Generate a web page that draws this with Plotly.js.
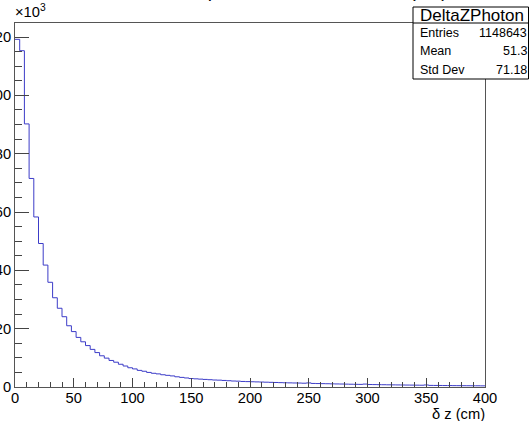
<!DOCTYPE html>
<html>
<head>
<meta charset="utf-8">
<script src="https://cdn.plot.ly/plotly-3.0.1.min.js"></script>
<style>html,body{margin:0;padding:0;background:#fff;}#chart{width:529px;height:421px;}</style>
</head>
<body>
<div id="chart"></div>
<script>
// ---- data (counts in units of 10^3 per 4 cm bin, 0..400 cm) ----
const histName = "DeltaZPhoton";
const titleText = "δz of reconstructed photon from true vertex (cm)";
const xTitle = "δ z (cm)";
const binLow = 0;
const binWidth = 4;
const counts = [
  119.2, 115.3, 90.2, 71.5, 58.3, 49.2, 41.8, 35.9, 30.6, 27.0,
  24.1, 21.0, 19.0, 17.0, 15.5, 14.2, 12.9, 11.8, 10.7, 9.9,
  9.1, 8.5, 7.8, 7.2, 6.6, 6.2, 5.7, 5.4, 5.0, 4.7,
  4.5, 4.2, 4.0, 3.8, 3.5, 3.3, 3.1, 2.9, 2.8, 2.7,
  2.6, 2.5, 2.4, 2.35, 2.25, 2.15, 2.05, 2.0, 1.9, 1.85,
  1.8, 1.75, 1.7, 1.65, 1.6, 1.55, 1.5, 1.45, 1.42, 1.38,
  1.35, 1.3, 1.4, 1.22, 1.18, 1.15, 1.12, 1.08, 1.05, 1.02,
  0.98, 0.95, 0.92, 0.9, 1.0, 0.85, 0.83, 0.8, 0.78, 0.75,
  0.73, 0.71, 0.69, 0.67, 0.65, 0.63, 0.61, 0.7, 0.55, 0.53,
  0.52, 0.5, 0.49, 0.47, 0.46, 0.45, 0.44, 0.43, 0.42, 0.4
];
const xTickVals = [0, 50, 100, 150, 200, 250, 300, 350, 400];
const xTickText = ["0", "50", "100", "150", "200", "250", "300", "350", "400"];
const yTickVals = [0, 20, 40, 60, 80, 100, 120];
const yTickText = ["0", "20", "40", "60", "80", "100", "120"];
const statLabels = ["Entries", "Mean", "Std Dev"];
const statValues = ["1148643", "51.3", "71.18"];

// ---- geometry helpers ----
const W = 529, H = 421;
const M = {l: 15, r: 44, t: 23, b: 34};
const PW = W - M.l - M.r, PH = H - M.t - M.b;
const px = x => (x - M.l) / PW;
const py = y => (H - M.b - y) / PH;

// step histogram from bin edges
const edges = [], stepY = [];
for (let i = 0; i < counts.length; i++) { edges.push(binLow + i * binWidth); stepY.push(counts[i]); }
edges.push(binLow + counts.length * binWidth); stepY.push(counts[counts.length - 1]);

const FONT = "Liberation Sans, Arial, Helvetica, sans-serif";

const trace = {
  x: edges, y: stepY, type: "scatter", mode: "lines",
  line: {shape: "hv", color: "#3c3cc8", width: 1},
  hoverinfo: "skip"
};

const annotations = [
  {text: titleText, xref: "paper", yref: "paper", x: px(244), y: py(3), xanchor: "center", yanchor: "bottom",
   showarrow: false, font: {family: FONT, size: 19, color: "#000"}},
  {text: "×10<sup>3</sup>", xref: "paper", yref: "paper", x: px(13), y: py(22), xanchor: "left", yanchor: "bottom",
   showarrow: false, font: {family: FONT, size: 14.7, color: "#000"}},
  {text: xTitle, xref: "paper", yref: "paper", x: px(487), y: py(414), xanchor: "right", yanchor: "middle",
   showarrow: false, font: {family: FONT, size: 14.7, color: "#000"}},
  {text: histName, xref: "paper", yref: "paper", x: px(472), y: py(15), xanchor: "center", yanchor: "middle",
   showarrow: false, font: {family: FONT, size: 17, color: "#000"}}
];
const rowY = [33, 51, 70];
for (let i = 0; i < statLabels.length; i++) {
  annotations.push({text: statLabels[i], xref: "paper", yref: "paper", x: px(418), y: py(rowY[i]),
    xanchor: "left", yanchor: "middle", showarrow: false, font: {family: FONT, size: 12.5, color: "#000"}});
  annotations.push({text: statValues[i], xref: "paper", yref: "paper", x: px(529), y: py(rowY[i]),
    xanchor: "right", yanchor: "middle", showarrow: false, font: {family: FONT, size: 12.5, color: "#000"}});
}

const shapes = [
  {type: "rect", xref: "paper", yref: "paper", x0: px(413), x1: px(528.5), y0: py(79), y1: py(7),
   fillcolor: "#fff", line: {color: "#000", width: 1}, layer: "above"},
  {type: "line", xref: "paper", yref: "paper", x0: px(413), x1: px(528.5), y0: py(23), y1: py(23),
   line: {color: "#000", width: 1}, layer: "above"}
];

const layout = {
  width: W, height: H,
  margin: M,
  paper_bgcolor: "#fff", plot_bgcolor: "#fff",
  showlegend: false,
  font: {family: FONT, color: "#000"},
  xaxis: {
    range: [0, 400], tickmode: "array", tickvals: xTickVals, ticktext: xTickText,
    ticks: "inside", ticklen: 9, tickwidth: 1, tickcolor: "#444",
    showline: true, mirror: true, linecolor: "#555", linewidth: 1,
    showgrid: false, zeroline: false, ticklabelstandoff: -3,
    tickfont: {family: FONT, size: 14.7, color: "#000"},
    minor: {tickmode: "linear", tick0: 0, dtick: 10, ticks: "inside", ticklen: 5, tickcolor: "#444", showgrid: false}
  },
  yaxis: {
    range: [0, 124.8], tickmode: "array", tickvals: yTickVals, ticktext: yTickText,
    ticks: "inside", ticklen: 14, tickwidth: 1, tickcolor: "#444",
    showline: true, mirror: true, linecolor: "#555", linewidth: 1,
    showgrid: false, zeroline: false,
    tickfont: {family: FONT, size: 14.7, color: "#000"},
    minor: {tickmode: "linear", tick0: 0, dtick: 5, ticks: "inside", ticklen: 7, tickcolor: "#444", showgrid: false}
  },
  annotations: annotations,
  shapes: shapes
};

Plotly.newPlot("chart", [trace], layout, {displayModeBar: false, staticPlot: true});
</script>
</body>
</html>
